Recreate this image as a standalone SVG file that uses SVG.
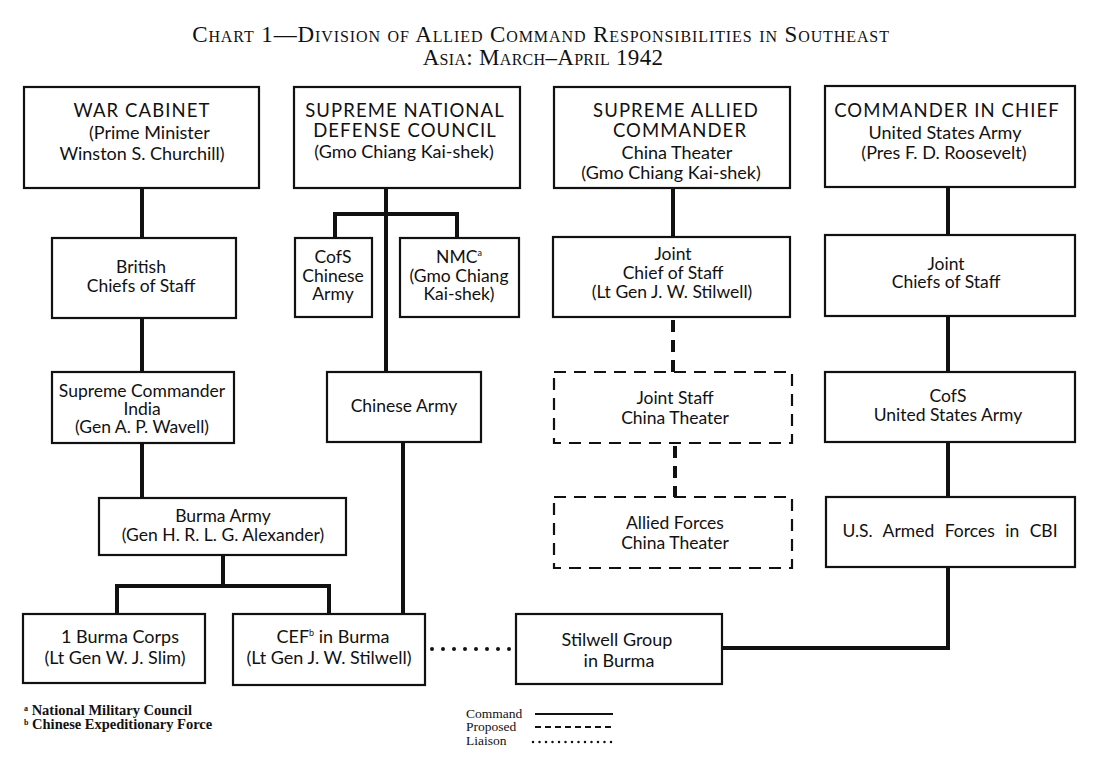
<svg xmlns="http://www.w3.org/2000/svg" width="1100" height="760" viewBox="0 0 1100 760">
<style>
.bx{fill:#fff;stroke:#111;stroke-width:2.2}
.dbx{fill:#fff;stroke:#111;stroke-width:2.2;stroke-dasharray:12 8}
.c{fill:none;stroke:#111;stroke-width:4}
.d{fill:none;stroke:#111;stroke-width:4;stroke-dasharray:12 8}
.l{fill:none;stroke:#111;stroke-width:4;stroke-dasharray:0 11;stroke-linecap:round}
text{font-family:Lato,"Liberation Sans",sans-serif;fill:#111;text-anchor:middle}
.h{font-size:18.5px;letter-spacing:1.1px}
.t{font-size:18px}
.s{font-size:17.5px}
.ti{font-family:"Liberation Serif",serif;font-variant:small-caps;font-size:23px;letter-spacing:0.9px}
.fn{font-family:"Liberation Serif",serif;font-size:14.5px;text-anchor:start;font-weight:bold}
.lg{font-family:"Liberation Serif",serif;font-size:13.5px;text-anchor:start}
</style>
<rect width="1100" height="760" fill="#fff"/>
<g id="title">
<text class="ti" x="541" y="42">Chart 1—Division of Allied Command Responsibilities in Southeast</text>
<text class="ti" x="543" y="65" style="letter-spacing:0.3px">Asia: March–April 1942</text>
</g>
<g id="connectors">
<path class="c" d="M142 188V238M142 318V372M142 443V498"/>
<path class="c" d="M223 555V586M117 614V586H329V614"/>
<path class="c" d="M386 188V372M335 238V214H457V238"/>
<path class="c" d="M403 442V614"/>
<path class="l" d="M432 649H512"/>
<path class="c" d="M722 648H948V567"/>
<path class="c" d="M948 187V235M948 316V372M948 442V497"/>
<path class="c" d="M673 188V237"/>
<path class="d" d="M673 320V372M675 446V497"/>
</g>
<g id="war-cabinet">
<rect class="bx" x="24" y="87" width="235" height="101"/>
<text class="h" x="142" y="117">WAR CABINET</text>
<text class="t" x="89" y="139" style="text-anchor:start">(Prime Minister</text>
<text class="t" x="142" y="160">Winston S. Churchill)</text>
</g>
<g id="sndc">
<rect class="bx" x="294" y="87" width="226" height="101"/>
<text class="h" x="405" y="117">SUPREME NATIONAL</text>
<text class="h" x="405" y="137">DEFENSE COUNCIL</text>
<text class="t" x="404" y="158">(Gmo Chiang Kai-shek)</text>
</g>
<g id="sac">
<rect class="bx" x="554" y="87" width="236" height="101"/>
<text class="h" x="676" y="117">SUPREME  ALLIED</text>
<text class="h" x="680" y="137">COMMANDER</text>
<text class="t" x="677" y="159">China Theater</text>
<text class="t" x="671" y="179">(Gmo Chiang Kai-shek)</text>
</g>
<g id="cinc">
<rect class="bx" x="825" y="86" width="250" height="101"/>
<text class="h" x="947" y="117">COMMANDER IN CHIEF</text>
<text class="t" x="945" y="139">United States Army</text>
<text class="t" x="944" y="159">(Pres F. D. Roosevelt)</text>
</g>
<g id="british-cos">
<rect class="bx" x="52" y="238" width="184" height="80"/>
<text class="s" x="141" y="273">British</text>
<text class="s" x="141" y="292">Chiefs of Staff</text>
</g>
<g id="cofs-chinese-army">
<rect class="bx" x="295" y="238" width="77" height="79"/>
<text class="s" x="333" y="263">CofS</text>
<text class="s" x="333" y="282">Chinese</text>
<text class="s" x="333" y="300">Army</text>
</g>
<g id="nmc">
<rect class="bx" x="400" y="238" width="119" height="79"/>
<text class="s" x="459" y="263">NMC<tspan font-size="9" dy="-7">a</tspan></text>
<text class="s" x="459" y="282">(Gmo Chiang</text>
<text class="s" x="459" y="300">Kai-shek)</text>
</g>
<g id="joint-chief-of-staff">
<rect class="bx" x="553" y="237" width="237" height="80"/>
<text class="s" x="673" y="260">Joint</text>
<text class="s" x="673" y="279">Chief of Staff</text>
<text class="s" x="672" y="298">(Lt Gen J. W. Stilwell)</text>
</g>
<g id="joint-chiefs-of-staff">
<rect class="bx" x="825" y="235" width="250" height="81"/>
<text class="s" x="946" y="270">Joint</text>
<text class="s" x="946" y="288">Chiefs of Staff</text>
</g>
<g id="supreme-commander-india">
<rect class="bx" x="52" y="372" width="182" height="71"/>
<text class="s" x="142" y="397">Supreme Commander</text>
<text class="s" x="142" y="415">India</text>
<text class="s" x="142" y="433">(Gen A. P. Wavell)</text>
</g>
<g id="chinese-army">
<rect class="bx" x="327" y="372" width="154" height="70"/>
<text class="s" x="404" y="412">Chinese Army</text>
</g>
<g id="joint-staff">
<rect class="dbx" x="554" y="372" width="238" height="71"/>
<text class="s" x="675" y="404">Joint Staff</text>
<text class="s" x="675" y="424">China Theater</text>
</g>
<g id="cofs-us-army">
<rect class="bx" x="825" y="372" width="250" height="70"/>
<text class="s" x="948" y="402">CofS</text>
<text class="s" x="948" y="421">United States Army</text>
</g>
<g id="burma-army">
<rect class="bx" x="99" y="498" width="247" height="57"/>
<text class="s" x="223" y="522">Burma Army</text>
<text class="s" x="223" y="541">(Gen H. R. L. G. Alexander)</text>
</g>
<g id="allied-forces">
<rect class="dbx" x="554" y="497" width="238" height="71"/>
<text class="s" x="675" y="529">Allied Forces</text>
<text class="s" x="675" y="549">China Theater</text>
</g>
<g id="us-armed-forces">
<rect class="bx" x="826" y="497" width="249" height="70"/>
<text class="s" x="950" y="537" style="word-spacing:6px">U.S. Armed Forces in CBI</text>
</g>
<g id="burma-corps">
<rect class="bx" x="23" y="614" width="182" height="69"/>
<text class="t" x="120" y="643">1 Burma Corps</text>
<text class="t" x="115" y="664">(Lt Gen W. J. Slim)</text>
</g>
<g id="cef">
<rect class="bx" x="233" y="614" width="192" height="71"/>
<text class="t" x="333" y="643">CEF<tspan font-size="9" dy="-7">b</tspan><tspan dy="7"> in Burma</tspan></text>
<text class="t" x="329" y="664">(Lt Gen J. W. Stilwell)</text>
</g>
<g id="stilwell-group">
<rect class="bx" x="516" y="614" width="206" height="70"/>
<text class="t" x="617" y="646">Stilwell Group</text>
<text class="t" x="619" y="667">in Burma</text>
</g>
<g id="footnotes">
<text class="fn" x="24" y="715"><tspan font-size="8" dy="-4">a</tspan><tspan dy="4"> National Military Council</tspan></text>
<text class="fn" x="24" y="729"><tspan font-size="8" dy="-4">b</tspan><tspan dy="4"> Chinese Expeditionary Force</tspan></text>
</g>
<g id="legend">
<text class="lg" x="466" y="718">Command</text>
<text class="lg" x="466" y="731">Proposed</text>
<text class="lg" x="466" y="745">Liaison</text>
<path fill="none" stroke="#111" stroke-width="2" d="M535 714H613"/>
<path fill="none" stroke="#111" stroke-width="2" stroke-dasharray="6 4" d="M535 727H613"/>
<path fill="none" stroke="#111" stroke-width="2.5" stroke-dasharray="0 6.5" stroke-linecap="round" d="M533 742H613"/>
</g>
</svg>
